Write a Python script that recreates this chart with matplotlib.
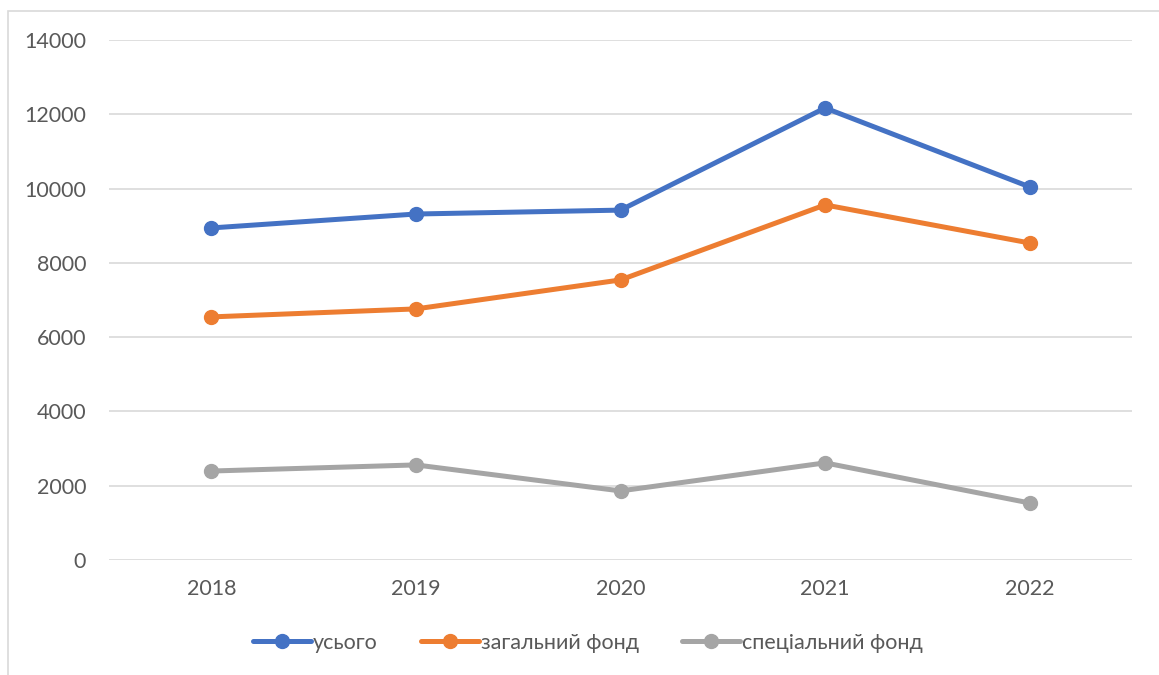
import matplotlib.pyplot as plt
from matplotlib.patches import Rectangle

years = ["2018", "2019", "2020", "2021", "2022"]
total = [8940, 9315, 9420, 12170, 10045]
general_fund = [6545, 6760, 7540, 9560, 8535]
special_fund = [2395, 2560, 1860, 2615, 1535]

labels = ["усього", "загальний фонд", "спеціальний фонд"]
colors = ["#4472C4", "#ED7D31", "#A5A5A5"]

plt.rcParams['font.family'] = ['Lato', 'DejaVu Sans']

fig = plt.figure(figsize=(11.59, 6.75), dpi=100)
ax = fig.add_axes([109 / 1159, 1 - 560 / 675, 1023 / 1159, 520 / 675])

# outer chart border, cut off at the right and bottom edges
fig.patches.append(Rectangle((8 / 1159, -0.1), 1.2, 1 - 11 / 675 + 0.1,
                             transform=fig.transFigure, fill=False,
                             edgecolor="#D9D9D9", linewidth=1.2))

x = range(len(years))
for series, label, color in zip([total, general_fund, special_fund], labels, colors):
    ax.plot(x, series, color=color, linewidth=3.6, marker="o", markersize=10,
            label=label, solid_capstyle="round", zorder=3)

ax.set_xlim(-0.5, len(years) - 0.5)
ax.set_ylim(0, 14000)
ax.set_yticks(range(0, 14001, 2000))
ax.set_xticks(list(x))
ax.set_xticklabels(years)
ax.grid(axis="y", color="#D9D9D9", linewidth=1.2)
ax.set_axisbelow(True)
for s in ax.spines.values():
    s.set_visible(False)
ax.tick_params(length=0, labelsize=15.5, labelcolor="#595959")
ax.tick_params(axis="y", pad=16.5)
ax.tick_params(axis="x", pad=14)

leg = fig.legend(loc="center", bbox_to_anchor=(588 / 1159, 1 - 643 / 675), ncol=3,
                 frameon=False, fontsize=15.5, handlelength=2.7, handletextpad=0.1,
                 columnspacing=2.0)
for t in leg.get_texts():
    t.set_color("#595959")

fig.savefig("out.png", dpi=100)
